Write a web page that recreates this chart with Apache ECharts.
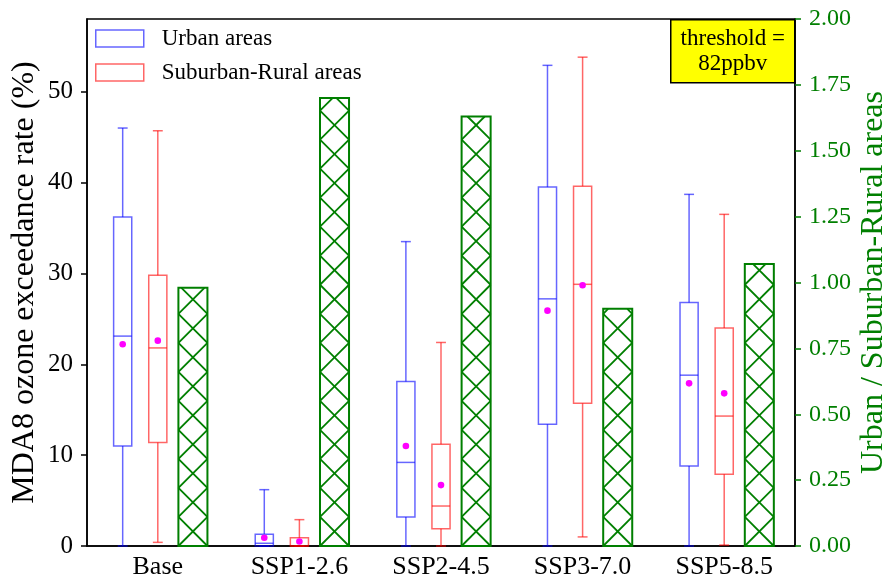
<!DOCTYPE html>
<html>
<head>
<meta charset="utf-8">
<script src="https://cdn.jsdelivr.net/npm/echarts@6/dist/echarts.min.js"></script>
<style>
  html, body { margin: 0; padding: 0; background: #fff; }
  #chart { width: 885px; height: 586px; }
</style>
</head>
<body>
<div id="chart"></div>
<script>
// --- data ---
const categories = ['Base', 'SSP1-2.6', 'SSP2-4.5', 'SSP3-7.0', 'SSP5-8.5'];
// [min, q1, median, q3, max]
const urbanBox = [
  [0, 11.0, 23.1, 36.2, 46.0],
  [0, 0, 0.3, 1.3, 6.2],
  [0, 3.2, 9.2, 18.1, 33.5],
  [0, 13.4, 27.2, 39.5, 52.9],
  [0, 8.8, 18.8, 26.8, 38.7]
];
const urbanMean = [22.2, 0.9, 11.0, 25.9, 17.9];
const ruralBox = [
  [0.4, 11.4, 21.8, 29.8, 45.7],
  [0, 0, 0, 0.9, 2.9],
  [0, 1.9, 4.4, 11.2, 22.4],
  [1.0, 15.7, 28.8, 39.6, 53.8],
  [0.1, 7.9, 14.3, 24.0, 36.5]
];
const ruralMean = [22.6, 0.5, 6.7, 28.7, 16.8];
const ratio = [0.98, 1.70, 1.63, 0.90, 1.07];
const leftTicks = [0, 10, 20, 30, 40, 50];
const rightTicks = [0, 0.25, 0.5, 0.75, 1, 1.25, 1.5, 1.75, 2];

const FONT = '"Liberation Serif", "Times New Roman", serif';
const BLUE = 'rgba(0,0,255,0.6)';
const RED = 'rgba(255,0,0,0.6)';
const GREEN = '#007f00';

// box plot drawn through the axis scales
function renderBox(offsetFrac, color) {
  return function (params, api) {
    const i = api.value(0);
    const band = api.size([1, 0])[0];
    const cx = api.coord([i, 0])[0] + band * offsetFrac;
    const half = band * 0.064, cap = band * 0.035;
    const y = k => api.coord([i, api.value(k)])[1];
    const lo = y(1), q1 = y(2), med = y(3), q3 = y(4), hi = y(5), mean = y(6);
    const ls = { stroke: color, lineWidth: 1.5, fill: null };
    return {
      type: 'group',
      children: [
        { type: 'line', shape: { x1: cx, y1: lo, x2: cx, y2: q1 }, style: ls },
        { type: 'line', shape: { x1: cx, y1: q3, x2: cx, y2: hi }, style: ls },
        { type: 'line', shape: { x1: cx - cap, y1: lo, x2: cx + cap, y2: lo }, style: ls },
        { type: 'line', shape: { x1: cx - cap, y1: hi, x2: cx + cap, y2: hi }, style: ls },
        { type: 'rect', shape: { x: cx - half, y: q3, width: half * 2, height: q1 - q3 }, style: ls },
        { type: 'line', shape: { x1: cx - half, y1: med, x2: cx + half, y2: med }, style: ls },
        { type: 'circle', shape: { cx: cx, cy: mean, r: 3.3 }, style: { fill: '#ff00ff' } }
      ]
    };
  };
}

// hatched (xx) ratio bar on the right axis
function renderRatio(params, api) {
  const i = api.value(0);
  const band = api.size([1, 0])[0];
  const cx = api.coord([i, 0])[0] + band * 0.248;
  const w = band * 0.205;
  const top = api.coord([i, api.value(1)])[1];
  const base = api.coord([i, 0])[1];
  const x0 = cx - w / 2, x1 = cx + w / 2, h = base - top;
  const hs = { stroke: GREEN, lineWidth: 1.8 };
  const children = [];
  const s = w;
  for (let t = 0; t <= h + w; t += s) {
    const a = Math.max(0, t - h), b = Math.min(w, t);
    if (a >= b) continue;
    children.push({ type: 'line', shape: { x1: x0 + a, y1: base - t + a, x2: x0 + b, y2: base - t + b }, style: hs });
    children.push({ type: 'line', shape: { x1: x1 - a, y1: base - t + a, x2: x1 - b, y2: base - t + b }, style: hs });
  }
  children.push({ type: 'rect', shape: { x: x0, y: top, width: w, height: h }, style: { fill: null, stroke: GREEN, lineWidth: 2 } });
  return { type: 'group', children: children };
}

const chart = echarts.init(document.getElementById('chart'));
chart.setOption({
  animation: false,
  backgroundColor: '#fff',
  textStyle: { fontFamily: FONT },
  grid: { left: 87, right: 90, top: 19, bottom: 40, outerBoundsMode: 'none',
          show: true, borderColor: '#000', borderWidth: 1.5 },
  legend: {
    orient: 'vertical', left: 95, top: 27, padding: 0,
    itemWidth: 48, itemHeight: 17, itemGap: 11,
    textStyle: { fontFamily: FONT, fontSize: 23, color: '#000', padding: [0, 0, 0, 13] },
    data: [
      { name: 'Urban areas', icon: 'rect', itemStyle: { color: 'transparent', borderColor: BLUE, borderWidth: 1.5 } },
      { name: 'Suburban-Rural areas', icon: 'rect', itemStyle: { color: 'transparent', borderColor: RED, borderWidth: 1.5 } }
    ]
  },
  xAxis: {
    type: 'category', data: categories,
    axisLine: { lineStyle: { color: '#000', width: 1.5 } },
    axisTick: { alignWithLabel: true, length: 6, lineStyle: { color: '#000', width: 1.5 } },
    axisLabel: { color: '#000', fontSize: 26, fontFamily: FONT, margin: 8 },
    splitLine: { show: false }
  },
  yAxis: [{
    type: 'value', min: 0, max: 58,
    name: 'MDA8 ozone exceedance rate (%)', nameLocation: 'middle', nameGap: 46,
    nameMoveOverlap: false,
    nameTextStyle: { fontSize: 32, fontFamily: FONT, color: '#000' },
    axisLine: { show: true, lineStyle: { color: '#000', width: 1.5 } },
    axisTick: { show: true, length: 6, customValues: leftTicks, lineStyle: { color: '#000', width: 1.5 } },
    axisLabel: { customValues: leftTicks, color: '#000', fontSize: 25, fontFamily: FONT, margin: 14 },
    splitLine: { show: false }
  }, {
    type: 'value', min: 0, max: 2, position: 'right',
    name: 'Urban / Suburban-Rural areas', nameLocation: 'middle', nameGap: 63,
    nameRotate: 90, nameMoveOverlap: false,
    nameTextStyle: { fontSize: 32, fontFamily: FONT, color: GREEN },
    axisLine: { show: true, lineStyle: { color: '#000', width: 1.5 } },
    axisTick: { show: true, length: 6, customValues: rightTicks, lineStyle: { color: GREEN, width: 1.5 } },
    axisLabel: { customValues: rightTicks, color: GREEN, fontSize: 24, fontFamily: FONT, margin: 14,
                 formatter: v => v.toFixed(2) },
    splitLine: { show: false }
  }],
  series: [{
    name: 'Urban areas', type: 'custom', renderItem: renderBox(-0.248, BLUE),
    itemStyle: { color: BLUE }, encode: { x: 0, y: [1, 2, 3, 4, 5, 6] },
    data: categories.map((c, i) => [i].concat(urbanBox[i], [urbanMean[i]]))
  }, {
    name: 'Suburban-Rural areas', type: 'custom', renderItem: renderBox(0, RED),
    itemStyle: { color: RED }, encode: { x: 0, y: [1, 2, 3, 4, 5, 6] },
    data: categories.map((c, i) => [i].concat(ruralBox[i], [ruralMean[i]]))
  }, {
    name: 'ratio', type: 'custom', yAxisIndex: 1, renderItem: renderRatio,
    itemStyle: { color: GREEN }, encode: { x: 0, y: 1 },
    data: categories.map((c, i) => [i, ratio[i]])
  }],
  graphic: [{
    type: 'group', left: 670, top: 19, z: 100,
    children: [
      { type: 'rect', shape: { x: 0, y: 0, width: 124, height: 63 },
        style: { fill: '#ffff00', stroke: '#000', lineWidth: 1.5 } },
      { type: 'text', x: 62, y: 32,
        style: { text: 'threshold =\n82ppbv', fill: '#000', fontSize: 23, fontFamily: FONT,
                 align: 'center', verticalAlign: 'middle', lineHeight: 25 } }
    ]
  }]
});
</script>
</body>
</html>
